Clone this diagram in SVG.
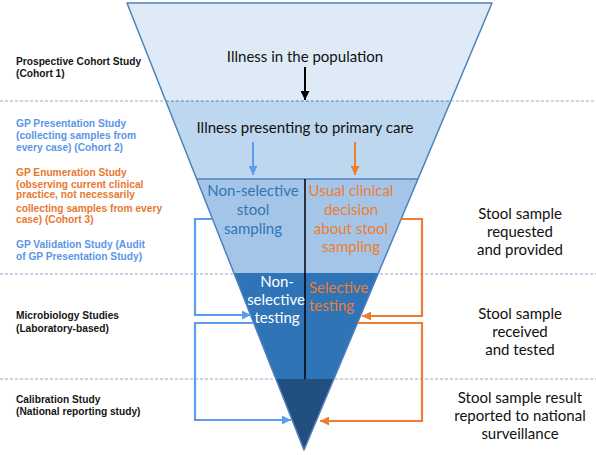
<svg xmlns="http://www.w3.org/2000/svg" width="596" height="455" viewBox="0 0 596 455">
<defs>
<style>
.lbl{font-family:"Liberation Sans",Arial,sans-serif;font-weight:bold;font-size:10.2px}
.k{fill:#151515}
.lb{fill:#5a96e6}
.lo{fill:#e9772e}
.c{font-family:Lato,"Open Sans",sans-serif;font-size:15px;text-anchor:middle}
.cs{font-family:Lato,"Open Sans",sans-serif;font-size:15px}
.dash{stroke:#8fa8cc;stroke-width:1;stroke-dasharray:3,2;fill:none}
.band{stroke:none}
.conb{stroke:#5b9bf0;stroke-width:2.2;fill:none}
.cono{stroke:#ed7d31;stroke-width:2.2;fill:none}
</style>
<marker id="ab" viewBox="0 0 10 10" refX="10" refY="5" markerWidth="9" markerHeight="9" markerUnits="userSpaceOnUse" orient="auto"><path d="M0,0 L10,5 L0,10 z" fill="#5b9bf0"/></marker>
<marker id="ao" viewBox="0 0 10 10" refX="10" refY="5" markerWidth="9" markerHeight="9" markerUnits="userSpaceOnUse" orient="auto"><path d="M0,0 L10,5 L0,10 z" fill="#ed7d31"/></marker>
<marker id="ak" viewBox="0 0 10 10" refX="10" refY="5" markerWidth="9" markerHeight="9" markerUnits="userSpaceOnUse" orient="auto"><path d="M0,0 L10,5 L0,10 z" fill="#000"/></marker>
</defs>
<rect width="596" height="455" fill="#fff"/>
<g id="dividers">
<line class="dash" x1="0" y1="274" x2="596" y2="274"/>
<line class="dash" x1="0" y1="379" x2="596" y2="379"/>
</g>
<g id="funnel">
<polygon class="band" points="127,3 492,3 450.8,101 165.8,101" fill="#deebf7"/>
<polygon class="band" points="165.8,101 450.8,101 418,179 196.7,179" fill="#bdd7ee"/>
<polygon class="band" points="196.7,179 418,179 378.8,273 233.9,273" fill="#a4c5e8"/>
<polygon class="band" points="233.9,273 378.8,273 333.9,379 275.9,379" fill="#2e74b7"/>
<polygon class="band" points="275.9,379 333.9,379 304,450" fill="#214f7e"/>
<polygon points="127,3 492,3 304,450" fill="none" stroke="#4f80c0" stroke-width="1.5" stroke-linejoin="round"/>
<line x1="196.7" y1="179" x2="418" y2="179" stroke="#4f80c0" stroke-width="1.5"/>
<line x1="305" y1="179" x2="305" y2="379" stroke="#000" stroke-width="1.5"/>
</g>
<g id="divider-top">
<line class="dash" x1="0" y1="101" x2="165.8" y2="101"/>
<line class="dash" x1="450.8" y1="101" x2="596" y2="101"/>
<line x1="165.8" y1="101" x2="450.8" y2="101" stroke="#4f80c0" stroke-width="1.2" stroke-dasharray="3,2"/>
</g>
<g id="connectors">
<line x1="305" y1="67" x2="305" y2="100" stroke="#000" stroke-width="2" marker-end="url(#ak)"/>
<line x1="253" y1="142" x2="253" y2="175" stroke="#5b9bf0" stroke-width="2" marker-end="url(#ab)"/>
<line x1="355" y1="142" x2="355" y2="175" stroke="#ed7d31" stroke-width="2" marker-end="url(#ao)"/>
<path class="conb" d="M212.5,219 H195 V315 H251" marker-end="url(#ab)"/>
<path class="conb" d="M253.7,323 H195 V420 H291" marker-end="url(#ab)"/>
<path class="cono" d="M401,219 H422 V316 H362" marker-end="url(#ao)"/>
<path class="cono" d="M357.5,323 H422 V421 H320" marker-end="url(#ao)"/>
</g>
<g id="node-population"><text class="c" x="305" y="62" fill="#111">Illness in the population</text></g>
<g id="node-primary-care"><text class="c" x="305" y="133" fill="#111">Illness presenting to primary care</text></g>
<g id="node-nonselective-sampling" fill="#2f75b5">
<text class="c" x="253" y="196">Non-selective</text>
<text class="c" x="253" y="215">stool</text>
<text class="c" x="253" y="234">sampling</text>
</g>
<g id="node-usual-decision" fill="#ed7d31">
<text class="c" x="351" y="196">Usual clinical</text>
<text class="c" x="351" y="215">decision</text>
<text class="c" x="351" y="234">about stool</text>
<text class="c" x="351" y="252">sampling</text>
</g>
<g id="node-nonselective-testing" fill="#fff">
<text class="c" x="277" y="287">Non-</text>
<text class="c" x="276" y="305">selective</text>
<text class="c" x="277" y="323">testing</text>
</g>
<g id="node-selective-testing" fill="#ed7d31">
<text class="cs" x="309" y="293">Selective</text>
<text class="cs" x="309" y="311">testing</text>
</g>
<g id="stage-requested" fill="#111">
<text class="c" x="520" y="219">Stool sample</text>
<text class="c" x="520" y="237">requested</text>
<text class="c" x="520" y="255">and provided</text>
</g>
<g id="stage-received" fill="#111">
<text class="c" x="520" y="319">Stool sample</text>
<text class="c" x="520" y="337">received</text>
<text class="c" x="520" y="355">and tested</text>
</g>
<g id="stage-reported" fill="#111">
<text class="c" x="520" y="403">Stool sample result</text>
<text class="c" x="520" y="421">reported to national</text>
<text class="c" x="520" y="439">surveillance</text>
</g>
<g id="study-cohort1" class="lbl k">
<text x="16" y="65">Prospective Cohort Study</text>
<text x="16" y="77">(Cohort 1)</text>
</g>
<g id="study-gp-presentation" class="lbl lb">
<text x="16" y="126.5">GP Presentation Study</text>
<text x="16" y="139">(collecting samples from</text>
<text x="16" y="151">every case) (Cohort 2)</text>
</g>
<g id="study-gp-enumeration" class="lbl lo">
<text x="16" y="176">GP Enumeration Study</text>
<text x="16" y="188">(observing current clinical</text>
<text x="16" y="198">practice, not necessarily</text>
<text x="16" y="211.5">collecting samples from every</text>
<text x="16" y="223">case) (Cohort 3)</text>
</g>
<g id="study-gp-validation" class="lbl lb">
<text x="16" y="248">GP Validation Study (Audit</text>
<text x="16" y="260">of GP Presentation Study)</text>
</g>
<g id="study-microbiology" class="lbl k">
<text x="16" y="319">Microbiology Studies</text>
<text x="16" y="332">(Laboratory-based)</text>
</g>
<g id="study-calibration" class="lbl k">
<text x="16" y="403">Calibration Study</text>
<text x="16" y="415">(National reporting study)</text>
</g>
</svg>
